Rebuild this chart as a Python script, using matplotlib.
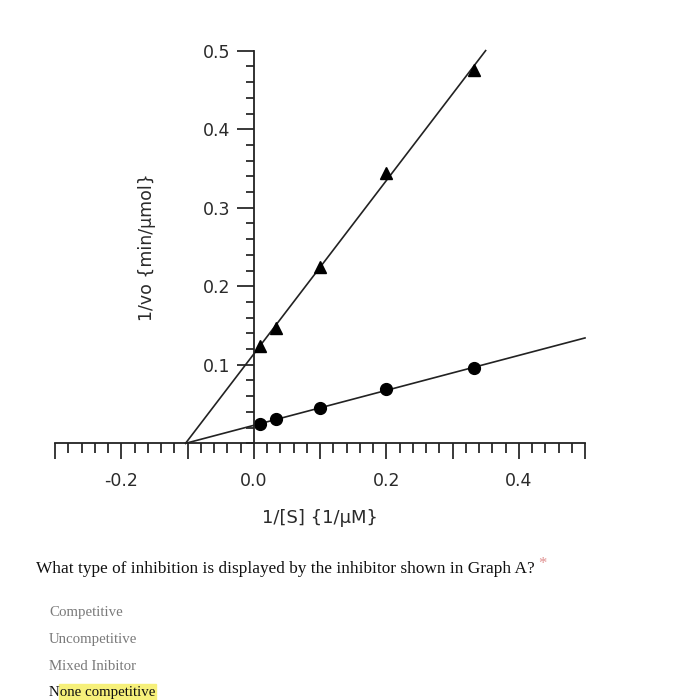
import numpy as np
import matplotlib
matplotlib.use("Agg")
import matplotlib.pyplot as plt
from matplotlib.ticker import MultipleLocator, FixedLocator, FuncFormatter

# 1/[S] and 1/vo
inv_s=[0.01, 0.0333, 0.1, 0.2, 0.333]
inv_v_inhib=[0.124, 0.147, 0.224, 0.344, 0.476]    # triangles
inv_v_none=[0.0246, 0.0306, 0.0446, 0.0688, 0.0963]  # circles
line_end_inhib=0.35
line_end_none=0.5

question="What type of inhibition is displayed by the inhibitor shown in Graph A?"
options=["Competitive","Uncompetitive","Mixed Inibitor"]
answer="None competitive"

W,H=678,700
fig=plt.figure(figsize=(W/100,H/100),dpi=100)
ax=fig.add_axes([55/W,(H-443.3)/H,530/W,392.6/H])

def draw_series(y,marker,x_end):
    m,b=np.polyfit(inv_s,y,1)
    xs=np.array([-b/m,x_end])
    ax.plot(xs,m*xs+b,color="#222222",lw=1.2,clip_on=False)
    ax.plot(inv_s,y,linestyle="none",marker=marker,ms=8.5,color="black",clip_on=False)

draw_series(inv_v_inhib,"^",line_end_inhib)
draw_series(inv_v_none,"o",line_end_none)

ax.set_xlim(-0.3,0.5)
ax.set_ylim(0,0.5)

for s in ["top","right"]:
    ax.spines[s].set_visible(False)
ax.spines["left"].set_position(("data",0))
ax.spines["left"].set_bounds(0,0.5)
for s in ["left","bottom"]:
    ax.spines[s].set_linewidth(1.3)
    ax.spines[s].set_color("#222222")

ax.xaxis.set_major_locator(MultipleLocator(0.1))
ax.xaxis.set_minor_locator(MultipleLocator(0.02))
ax.xaxis.set_major_formatter(FuncFormatter(lambda v,p: f"{v:.1f}" if round(v*10)%2==0 else ""))
ax.yaxis.set_major_locator(FixedLocator([0.1,0.2,0.3,0.4,0.5]))
ax.yaxis.set_minor_locator(MultipleLocator(0.02))
ax.yaxis.set_major_formatter(FuncFormatter(lambda v,p: f"{v:.1f}"))

tc="#2a2a2a"
ax.tick_params(axis="x",which="major",direction="out",length=11.5,width=1.3,pad=9,labelsize=12.5,colors=tc)
ax.tick_params(axis="x",which="minor",direction="out",length=7.5,width=1.3,colors=tc)
ax.tick_params(axis="y",which="major",direction="out",length=12,width=1.3,pad=5,labelsize=12.5,colors=tc)
ax.tick_params(axis="y",which="minor",direction="out",length=6,width=1.3,colors=tc)

ax.set_xlabel("1/[S] {1/µM}",fontsize=13,color=tc)
ax.xaxis.label.set_va("center")
ax.xaxis.set_label_coords(0.5,(443.3-518)/392.6)
ax.set_ylabel("1/vo {min/µmol}",fontsize=12.5,color=tc)
ax.yaxis.label.set_va("center")
ax.yaxis.set_label_coords((147-55)/530,0.5)

serif=["Liberation Serif","DejaVu Serif"]
fig.text(36/W,1-569/H,question,family=serif,fontsize=12.4,color="#111111",va="center",ha="left")
fig.text(538/W,1-564/H,"*",family=serif,fontsize=12,color="#e09090",va="center",ha="left")

ys=[612.7,639.3,666]
for y,t in zip(ys,options):
    fig.text(49/W,1-y/H,t,family=serif,fontsize=10.7,color="#7a7a7a",va="center",ha="left")

# highlighted answer
fig.patches.append(plt.Rectangle((59/W,0),(156-59)/W,(700-684)/H,transform=fig.transFigure,
                                 color="#f6f07a",zorder=0))
fig.text(49/W,1-692.7/H,answer,family=serif,fontsize=10.7,color="#111111",va="center",ha="left")

fig.savefig("out.png",dpi=100)
